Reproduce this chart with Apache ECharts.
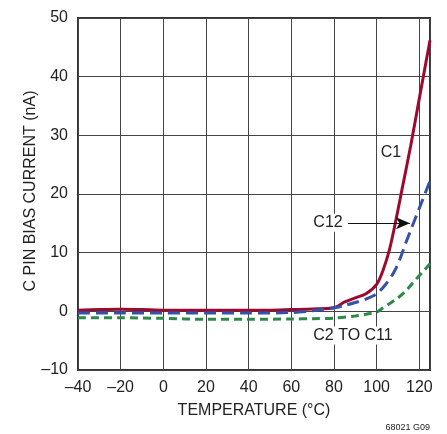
<!DOCTYPE html>
<html><head><meta charset="utf-8">
<script src="https://cdn.jsdelivr.net/npm/echarts@6/dist/echarts.min.js"></script>
<style>html,body{margin:0;padding:0;background:#fff}#c{width:447px;height:434px}</style>
</head><body><div id="c"></div>
<script>
const FONT = '"Liberation Sans Narrow","Arial Narrow","Liberation Sans",sans-serif';
const xTicks = [-40,-20,0,20,40,60,80,100,120];
const yTicks = [-10,0,10,20,30,40,50];
const c1T = [-40,-30,-20,-10,0,10,20,30,40,50,60,70,80,85,90,95,100,103,106,109,112,116,120,125];
const c1V = [0.2,0.3,0.35,0.3,0.2,0.2,0.2,0.2,0.2,0.2,0.3,0.4,0.6,1.6,2.3,3.0,4.6,7.0,10.5,15.5,21,28.3,36.3,46.2];
const c12T = [-40,-20,0,20,40,60,70,80,85,90,95,100,104,108,111,114,117,120,125];
const c12V = [-0.3,-0.3,-0.3,-0.3,-0.3,-0.2,0.1,0.6,1.0,1.5,2.1,3.0,4.5,6.6,9.0,12.0,14.8,17.6,22.2];
const c2T = [-40,-20,0,20,40,60,70,80,90,95,100,103,106,110,114,118,121,125];
const c2V = [-1.1,-1.1,-1.2,-1.35,-1.35,-1.3,-1.25,-1.15,-0.8,-0.5,-0.1,0.6,1.3,2.3,3.6,5.3,6.5,8.1];
const labels = [
  {text:'C1', at:[106.7,27.1], bg:false},
  {text:'C12', at:[77.2,15.1], bg:true},
  {text:'C2 TO C11', at:[88.9,-4.1], bg:true}
];
const arrow = [[86.6,15.0],[115.6,15.0]];
const zip = (a,b)=>a.map((v,i)=>[v,b[i]]);
const fmt = v => String(v).replace('-', '\u2013');
const chart = echarts.init(document.getElementById('c'), null, {renderer:'canvas'});
chart.setOption({
  animation:false,
  backgroundColor:'#fff',
  grid:{left:78,right:17,top:18,bottom:64,show:true,borderColor:'#333',borderWidth:2,backgroundColor:'transparent'},
  xAxis:{type:'value',min:-40,max:125,interval:20,
    axisLine:{show:false},axisTick:{show:false},
    splitLine:{show:true,lineStyle:{color:'#444',width:1}},
    axisLabel:{showMaxLabel:false,margin:10,fontFamily:FONT,fontSize:16,color:'#222',formatter:fmt},
    name:'TEMPERATURE (°C)',nameLocation:'middle',nameGap:33,
    nameTextStyle:{fontFamily:FONT,fontSize:16,color:'#222'}},
  yAxis:{type:'value',min:-10,max:50,interval:10,
    axisLine:{show:false},axisTick:{show:false},
    splitLine:{show:true,lineStyle:{color:'#444',width:1}},
    axisLabel:{margin:10,fontFamily:FONT,fontSize:16,color:'#222',formatter:fmt}},
  series:[
    {type:'line',data:zip(c2T,c2V),smooth:0.3,symbol:'none',z:3,
      lineStyle:{color:'#2c8a48',width:3,type:[8,5]}},
    {type:'line',data:zip(c1T,c1V),smooth:0.3,symbol:'none',z:4,
      lineStyle:{color:'#9c0a30',width:3}},
    {type:'line',data:zip(c12T,c12V),smooth:0.3,symbol:'none',z:5,
      lineStyle:{color:'#3552a8',width:3,type:[12,6]},
      markLine:{silent:true,symbol:['none','arrow'],symbolSize:[9,14],label:{show:false},
        lineStyle:{color:'#111',width:1,type:'solid'},
        data:[[{coord:arrow[0]},{coord:arrow[1]}]]}}
  ]
});
const g = [];
labels.forEach(l=>{
  const p = chart.convertToPixel({gridIndex:0}, l.at);
  g.push({type:'text',x:p[0],y:p[1],z:10,style:{text:l.text,fontFamily:FONT,fontSize:16,fill:'#222',
    align:'center',verticalAlign:'middle',backgroundColor:l.bg?'#fff':null,padding:l.bg?[1,3]:0}});
});
g.push({type:'text',x:31,y:191,rotation:Math.PI/2,style:{text:'C PIN BIAS CURRENT (nA)',fontFamily:FONT,fontSize:16,fill:'#222',align:'center',verticalAlign:'middle'}});
g.push({type:'text',x:430,y:428,style:{text:'68021 G09',fontFamily:FONT,fontSize:9,fill:'#222',align:'right',verticalAlign:'middle'}});
chart.setOption({graphic:g});
</script></body></html>
